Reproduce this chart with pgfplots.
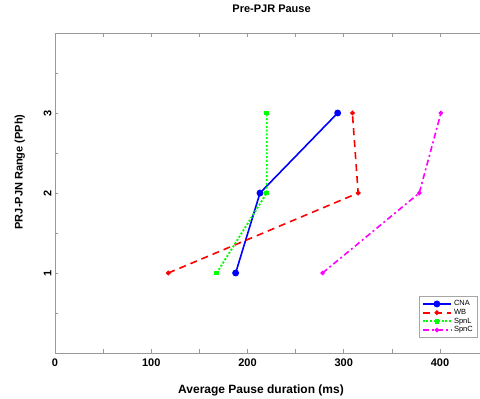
\documentclass[border=0pt]{standalone}
\usepackage{fontspec}
\setmainfont{Liberation Sans}
\usepackage{pgfplots}
\pgfplotsset{compat=1.18}
\definecolor{mmag}{RGB}{255,0,255}
\definecolor{mgreen}{RGB}{0,255,0}
\definecolor{mblue}{RGB}{0,0,255}
\definecolor{mred}{RGB}{255,0,0}
\begin{document}
\begin{tikzpicture}[x=1pt,y=1pt]
\begin{axis}[
  at={(0,0)}, anchor=south west,
  scale only axis,
  width=433.1pt, height=320pt,
  xmin=0, xmax=450, ymin=0, ymax=4,
  axis line style={gray!80, line width=0.9pt},
  xtick={0,50,...,450},
  xticklabels={0,,100,,200,,300,,400,},
  ytick={0.5,1,...,3.5},
  yticklabels={,1,,2,,3,},
  tick style={gray!80, line width=0.7pt},
  major tick length=3.5pt,
  tick align=inside,
  xtick pos=both, ytick pos=left,
  ticklabel style={font=\fontsize{11}{12}\selectfont\bfseries},
  xticklabel style={yshift=-2pt},
  yticklabel style={rotate=90, anchor=south, xshift=0pt},
  title={Pre-PJR Pause},
  title style={font=\fontsize{11}{12}\selectfont\bfseries, at={(rel axis cs:0.5,1)}, anchor=center, yshift=18pt},
  xlabel={Average Pause duration (ms)},
  xlabel style={font=\fontsize{12}{13}\selectfont\bfseries, at={(rel axis cs:0.4757,0)}, anchor=center, yshift=-37pt},
  ylabel={PRJ-PJN Range (PPh)},
  ylabel style={font=\fontsize{11}{12}\selectfont\bfseries, at={(axis description cs:-0.081,0.566)}, anchor=center},
  legend style={at={(rel axis cs:0.975,0.047)}, anchor=south east,
    font=\fontsize{7.5}{8}\selectfont, draw=gray!70, line width=0.6pt,
    row sep=-2pt, inner sep=2.2pt},
  legend cell align=left,
  legend image code/.code={
    \draw[#1, line width=1.8pt] (0cm,0cm) -- (1.0cm,0cm);
    \draw[#1, solid] plot coordinates {(0.5cm,0cm)};
  },
]
\addplot[mblue, line width=1.6pt, mark=*, mark size=2.6pt, mark options={solid}]
  coordinates {(187.7,1) (213,2) (293.7,3)};
\addlegendentry{CNA}
\addplot[mred, line width=1.6pt, dash pattern=on 7pt off 5pt, mark=*, mark size=1.5pt, mark options={solid}]
  coordinates {(117.7,1) (315,2) (309,3)};
\addlegendentry{WB}
\addplot[mgreen, line width=1.9pt, dash pattern=on 2pt off 1.8pt, mark=square*, mark size=1.4pt, mark options={solid}]
  coordinates {(168,1) (220,2) (220,3)};
\addlegendentry{SpnL}
\addplot[mmag, line width=1.6pt, dash pattern=on 6pt off 3pt on 2pt off 3pt, mark=*, mark size=1.4pt, mark options={solid}]
  coordinates {(278,1) (378.5,2) (401,3)};
\addlegendentry{SpnC}
\end{axis}
\pgfresetboundingbox
\path[use as bounding box] (-55pt,-46pt) rectangle (425pt,353pt);
\end{tikzpicture}
\end{document}
